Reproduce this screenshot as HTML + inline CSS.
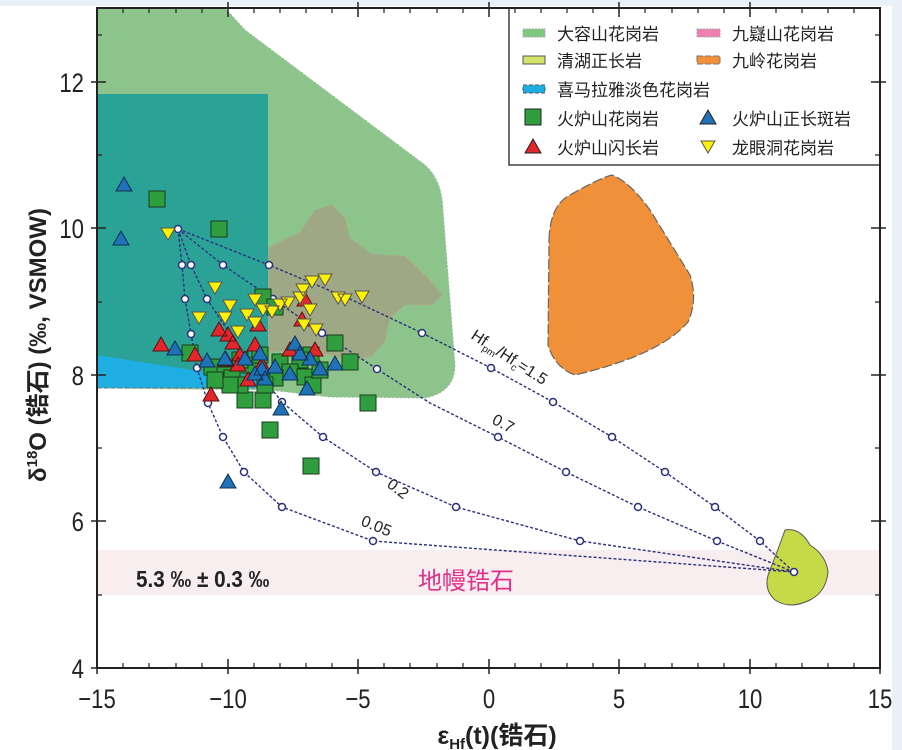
<!DOCTYPE html>
<html><head><meta charset="utf-8"><style>
html,body{margin:0;padding:0;background:#fff;}
svg{display:block;font-family:"Liberation Sans","Noto Sans CJK SC",sans-serif;}
</style></head><body>
<svg width="902" height="750" viewBox="0 0 902 750" xmlns="http://www.w3.org/2000/svg">
<rect x="0" y="0" width="902" height="6" fill="#eaf0f7"/>
<rect x="892" y="0" width="10" height="750" fill="#eaf0f7"/>
<rect x="97" y="8" width="783" height="660" fill="#fff"/>
<rect x="98" y="550" width="781" height="45" fill="#f8eef0"/>
<path d="M97,8 L225,8 L245,30 L425,165 Q442,180 443,210 L455,365 Q455,392 425,398 L330,397 L270,390 L97,388 Z" fill="#8cc48c" stroke="#9dbd9d" stroke-dasharray="2,2" stroke-width="1"/>
<path d="M268,248 L300,232 L315,210 L332,205 L345,218 L350,238 L372,254 L405,256 L428,278 L442,295 L432,305 L405,305 L390,318 L385,342 L372,356 L352,362 L330,355 L300,350 L268,352 Z" fill="#9fa885" stroke="#aab08f" stroke-dasharray="2,2"/>
<rect x="97" y="94" width="171" height="294" fill="#2aa396"/>
<path d="M97,355 L268,382 L268,388 L97,388 Z" fill="#1eaee2"/>
<line x1="97" y1="388" x2="268" y2="388" stroke="#777" stroke-dasharray="4,3" stroke-width="1"/>
<path d="M549,240 Q550,205 570,195 Q600,178 612,175 Q630,182 650,210 L690,275 Q698,300 688,322 Q660,355 575,375 Q555,368 548,345 Z" fill="#f0913a" stroke="#666" stroke-dasharray="10,3" stroke-width="1.2"/>
<path d="M785,530 Q800,527 810,545 Q826,555 828,572 Q826,592 810,600 Q790,610 775,600 Q762,588 770,570 Q778,550 785,530 Z" fill="#c6da48" stroke="#555" stroke-width="1"/>
<g fill="none" stroke="#2b2f7e" stroke-width="1.4" stroke-dasharray="3,2">
<path d="M178,229 L269,265 L350,299 L422,333 L491,368 L553,402 L612,437 L665,472 L715,507 L760,541 L794,572"/>
<path d="M178,229 L223,265 L273,299 L322,333 L377,369 L430,403 L498,437 L566,472 L638,507 L717,541 L794,572"/>
<path d="M178,229 L191,265 L207,299 L230,334 L255,368 L282,402 L323,437 L376,472 L456,507 L580,541 L794,572"/>
<path d="M178,229 L182,265 L185,299 L191,334 L197,368 L208,403 L223,437 L244,472 L282,507 L373,541 L794,572"/>
</g>
<g fill="#fff" stroke="#2b2f7e" stroke-width="1.5">
<circle cx="178" cy="229" r="3.5"/><circle cx="794" cy="572" r="3.5"/>
<circle cx="269" cy="265" r="3.5"/><circle cx="422" cy="333" r="3.5"/><circle cx="491" cy="368" r="3.5"/><circle cx="553" cy="402" r="3.5"/><circle cx="612" cy="437" r="3.5"/><circle cx="665" cy="472" r="3.5"/><circle cx="715" cy="507" r="3.5"/><circle cx="760" cy="541" r="3.5"/>
<circle cx="223" cy="265" r="3.5"/><circle cx="273" cy="299" r="3.5"/><circle cx="322" cy="333" r="3.5"/><circle cx="377" cy="369" r="3.5"/><circle cx="498" cy="437" r="3.5"/><circle cx="566" cy="472" r="3.5"/><circle cx="638" cy="507" r="3.5"/><circle cx="717" cy="541" r="3.5"/>
<circle cx="191" cy="265" r="3.5"/><circle cx="207" cy="299" r="3.5"/><circle cx="282" cy="402" r="3.5"/><circle cx="323" cy="437" r="3.5"/><circle cx="376" cy="472" r="3.5"/><circle cx="456" cy="507" r="3.5"/><circle cx="580" cy="541" r="3.5"/>
<circle cx="182" cy="265" r="3.5"/><circle cx="185" cy="299" r="3.5"/><circle cx="191" cy="334" r="3.5"/><circle cx="197" cy="368" r="3.5"/><circle cx="208" cy="403" r="3.5"/><circle cx="223" cy="437" r="3.5"/><circle cx="244" cy="472" r="3.5"/><circle cx="282" cy="507" r="3.5"/><circle cx="373" cy="541" r="3.5"/>
</g>
<g font-size="16" fill="#222">
<text transform="translate(470,338) rotate(33)">Hf<tspan font-size="10" dy="4">pm</tspan><tspan dy="-4">/Hf</tspan><tspan font-size="10" dy="4">c</tspan><tspan dy="-4">=1.5</tspan></text>
<text transform="translate(491,423) rotate(28)">0.7</text>
<text transform="translate(386,486) rotate(38)">0.2</text>
<text transform="translate(360,525) rotate(22)">0.05</text>
</g>
<g fill="#2e9e3e" stroke="#1b3b1b" stroke-width="1">
<rect x="149" y="191" width="16" height="16"/><rect x="211" y="221" width="16" height="16"/><rect x="255" y="289" width="16" height="16"/><rect x="267" y="299" width="16" height="16"/><rect x="182" y="345" width="16" height="16"/><rect x="204" y="359" width="16" height="16"/><rect x="217" y="367" width="16" height="16"/><rect x="224" y="370" width="16" height="16"/><rect x="237" y="392" width="16" height="16"/><rect x="255" y="392" width="16" height="16"/><rect x="262" y="422" width="16" height="16"/><rect x="303" y="458" width="16" height="16"/><rect x="360" y="395" width="16" height="16"/><rect x="342" y="354" width="16" height="16"/><rect x="327" y="335" width="16" height="16"/><rect x="303" y="347" width="16" height="16"/><rect x="292" y="352" width="16" height="16"/><rect x="272" y="354" width="16" height="16"/><rect x="282" y="364" width="16" height="16"/><rect x="297" y="369" width="16" height="16"/><rect x="242" y="357" width="16" height="16"/><rect x="232" y="352" width="16" height="16"/><rect x="252" y="347" width="16" height="16"/><rect x="267" y="370" width="16" height="16"/><rect x="232" y="377" width="16" height="16"/><rect x="222" y="377" width="16" height="16"/><rect x="305" y="377" width="16" height="16"/><rect x="312" y="362" width="16" height="16"/><rect x="207" y="372" width="16" height="16"/><rect x="257" y="377" width="16" height="16"/>
</g>
<g fill="#e3262b" stroke="#5a1010" stroke-width="1">
<path d="M161,337 l8,14 h-16z M195,347 l8,14 h-16z M211,387 l8,14 h-16z M219,322 l8,14 h-16z M228,327 l8,14 h-16z M233,335 l8,14 h-16z M240,347 l8,14 h-16z M248,372 l8,14 h-16z M258,317 l8,14 h-16z M255,337 l8,14 h-16z M290,342 l8,14 h-16z M305,292 l8,14 h-16z M226,352 l8,14 h-16z M238,357 l8,14 h-16z M262,357 l8,14 h-16z M315,342 l8,14 h-16z M302,312 l8,14 h-16z"/>
</g>
<g fill="#1f72b8" stroke="#10304f" stroke-width="1">
<path d="M124,177 l8,14 h-16z M121,231 l8,14 h-16z M175,341 l8,14 h-16z M228,474 l8,14 h-16z M281,401 l8,14 h-16z M207,353 l8,14 h-16z M225,351 l8,14 h-16z M245,351 l8,14 h-16z M260,346 l8,14 h-16z M262,361 l8,14 h-16z M275,359 l8,14 h-16z M295,336 l8,14 h-16z M300,346 l8,14 h-16z M310,351 l8,14 h-16z M320,361 l8,14 h-16z M290,366 l8,14 h-16z M335,356 l8,14 h-16z M307,381 l8,14 h-16z M255,366 l8,14 h-16z M265,371 l8,14 h-16z"/>
</g>
<g fill="#fff200" stroke="#555" stroke-width="1">
<path d="M168,240 l7,-12 h-14z M215,294 l7,-12 h-14z M230,312 l7,-12 h-14z M199,324 l7,-12 h-14z M247,321 l7,-12 h-14z M238,338 l7,-12 h-14z M255,306 l7,-12 h-14z M263,316 l7,-12 h-14z M272,318 l7,-12 h-14z M280,311 l7,-12 h-14z M288,309 l7,-12 h-14z M300,304 l7,-12 h-14z M303,296 l7,-12 h-14z M312,288 l7,-12 h-14z M325,286 l7,-12 h-14z M338,304 l7,-12 h-14z M345,306 l7,-12 h-14z M362,303 l7,-12 h-14z M310,316 l7,-12 h-14z M304,331 l7,-12 h-14z M316,336 l7,-12 h-14z M255,329 l7,-12 h-14z M225,324 l7,-12 h-14z"/>
</g>
<text transform="translate(136,587) scale(0.9,1)" font-size="23" font-weight="bold" fill="#222">5.3 ‰ ± 0.3 ‰</text>
<text x="418" y="589" font-size="24" fill="#e0308a">地幔锆石</text>
<rect x="509" y="8" width="371" height="157" fill="#fff" stroke="#222" stroke-width="1.3"/>
<g font-size="17" fill="#222">
<rect x="523" y="29" width="22" height="8" fill="#7fc87f" stroke="#aaa" stroke-dasharray="2,1"/><text x="557" y="40">大容山花岗岩</text>
<rect x="697" y="29" width="23" height="8" fill="#ef7fb0" stroke="#aaa" stroke-dasharray="2,1"/><text x="732" y="40">九嶷山花岗岩</text>
<rect x="523" y="56" width="22" height="8" fill="#d4e36a" stroke="#555"/><text x="557" y="67">清湖正长岩</text>
<rect x="697" y="56" width="23" height="8" fill="#f0913a" stroke="#777" stroke-dasharray="6,2"/><text x="732" y="67">九岭花岗岩</text>
<rect x="523" y="85" width="22" height="8" fill="#1eaee2" stroke="#555" stroke-dasharray="4,2"/><text x="557" y="96">喜马拉雅淡色花岗岩</text>
<rect x="525" y="109" width="16" height="16" fill="#2e9e3e" stroke="#222"/><text x="557" y="125">火炉山花岗岩</text>
<path d="M708,110 l8,14 h-16z" fill="#1f72b8" stroke="#222"/><text x="732" y="125">火炉山正长斑岩</text>
<path d="M533,139 l8,14 h-16z" fill="#e3262b" stroke="#222"/><text x="557" y="154">火炉山闪长岩</text>
<path d="M708,153 l7,-12 h-14z" fill="#fff200" stroke="#555"/><text x="732" y="154">龙眼洞花岗岩</text>
</g>
<rect x="97" y="8" width="783" height="660" fill="none" stroke="#222" stroke-width="2"/>
<g stroke="#222" stroke-width="1.5">
<path d="M97,668v-9M228,668v-9M358,668v-9M489,668v-9M619,668v-9M750,668v-9M880,668v-9 M97,668v6M228,668v6M358,668v6M489,668v6M619,668v6M750,668v6M880,668v6"/>
<path d="M97,8v9M228,8v9M358,8v9M489,8v9M619,8v9M750,8v9M880,8v9 M228,8v-6M358,8v-6M489,8v-6M619,8v-6M750,8v-6"/>
<path d="M97,668h9M97,521h9M97,375h9M97,228h9M97,82h9 M91,668h6M91,521h6M91,375h6M91,228h6M91,82h6"/>
<path d="M880,521h-9M880,375h-9M880,228h-9M880,82h-9 M880,521h6M880,375h6M880,228h6M880,82h6"/>
</g>
<g stroke="#222" stroke-width="1.2">
<path d="M123,668v-5M149,668v-5M176,668v-5M202,668v-5M254,668v-5M280,668v-5M306,668v-5M332,668v-5M384,668v-5M410,668v-5M437,668v-5M463,668v-5M515,668v-5M541,668v-5M567,668v-5M593,668v-5M645,668v-5M672,668v-5M698,668v-5M724,668v-5M776,668v-5M802,668v-5M828,668v-5M854,668v-5"/>
<path d="M123,8v5M149,8v5M176,8v5M202,8v5M254,8v5M280,8v5M306,8v5M332,8v5M384,8v5M410,8v5M437,8v5M463,8v5M515,8v5M541,8v5M567,8v5M593,8v5M645,8v5M672,8v5M698,8v5M724,8v5M776,8v5M802,8v5M828,8v5M854,8v5"/>
<path d="M97,595h5M97,448h5M97,302h5M97,155h5M97,35h5 M880,595h-5M880,448h-5M880,302h-5M880,155h-5M880,35h-5"/>
</g>
<g font-size="27" fill="#222" text-anchor="middle">
<text transform="translate(97,708) scale(0.82,1)">−15</text>
<text transform="translate(228,708) scale(0.82,1)">−10</text>
<text transform="translate(358,708) scale(0.82,1)">−5</text>
<text transform="translate(489,708) scale(0.82,1)">0</text>
<text transform="translate(619,708) scale(0.82,1)">5</text>
<text transform="translate(750,708) scale(0.82,1)">10</text>
<text transform="translate(880,708) scale(0.82,1)">15</text>
</g>
<g font-size="27" fill="#222" text-anchor="end">
<text transform="translate(84,678) scale(0.82,1)">4</text>
<text transform="translate(84,531) scale(0.82,1)">6</text>
<text transform="translate(84,385) scale(0.82,1)">8</text>
<text transform="translate(84,238) scale(0.82,1)">10</text>
<text transform="translate(84,92) scale(0.82,1)">12</text>
</g>
<text x="497" y="744" font-size="25" font-weight="bold" text-anchor="middle" fill="#222">ε<tspan font-size="15" dy="5">Hf</tspan><tspan dy="-5">(t)(锆石)</tspan></text>
<text transform="translate(46,345) rotate(-90)" font-size="24" font-weight="bold" text-anchor="middle" fill="#222">δ<tspan font-size="15" dy="-9">18</tspan><tspan dy="9">O (锆石) (‰, VSMOW)</tspan></text>
</svg>
</body></html>
